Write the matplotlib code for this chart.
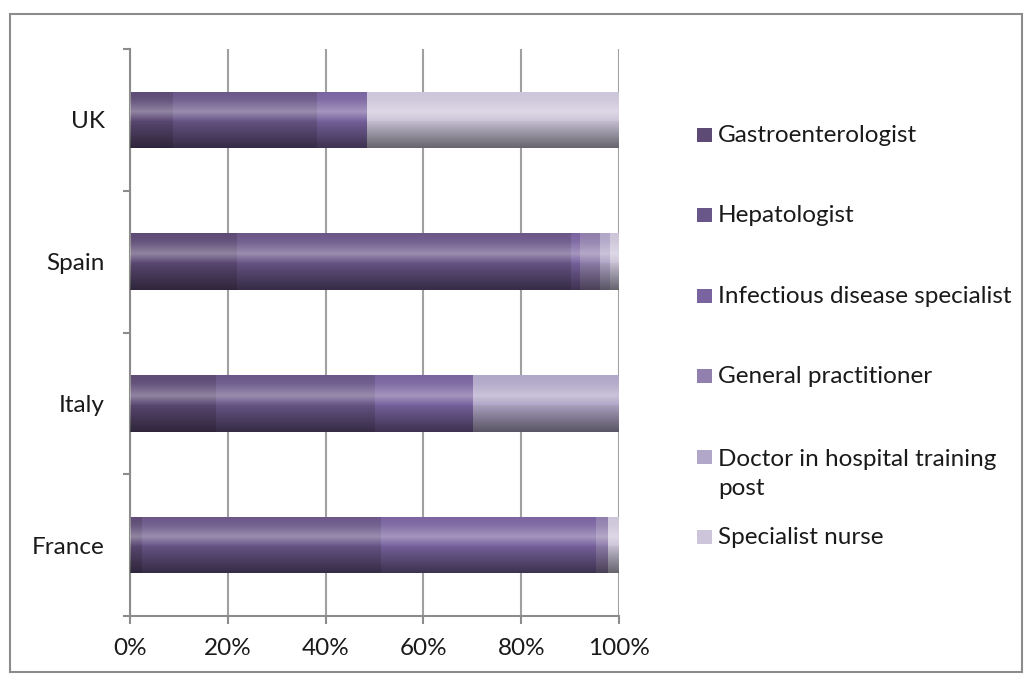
import numpy as np
import matplotlib
matplotlib.use("Agg")
import matplotlib.pyplot as plt
import matplotlib.patches as patches

plt.rcParams['font.family'] = ['Lato', 'DejaVu Sans']

countries = ['France', 'Italy', 'Spain', 'UK']
series = ['Gastroenterologist', 'Hepatologist', 'Infectious disease specialist',
          'General practitioner', 'Doctor in hospital training\npost', 'Specialist nurse']
colors = ['#5d4a75', '#6a5789', '#7a64a0', '#9180ad', '#b1a7c8', '#cdc6da']

# percent share per country (France, Italy, Spain, UK)
gastro = [2.4, 17.5, 21.9, 8.7]
hepato = [48.9, 32.6, 68.2, 29.5]
infect = [43.9, 20.0, 1.9, 10.3]
gp = [2.5, 0.0, 4.1, 0.0]
doctor = [0.0, 29.9, 2.1, 0.0]
nurse = [2.3, 0.0, 1.8, 51.5]
values = [gastro, hepato, infect, gp, doctor, nurse]

fig = plt.figure(figsize=(10.31, 6.80), dpi=100)
W, H = 1031, 680
fig.patches.append(patches.Rectangle((10 / W, 1 - 672 / H), 1012 / W, 658 / H,
                                     transform=fig.transFigure, fill=False,
                                     edgecolor='#8c8c8c', lw=1.5))

ax = fig.add_axes([130 / W, 1 - 616 / H, 489 / W, 567 / H])
y = np.arange(len(countries))
bar_h = 0.4
left = np.zeros(len(countries))
for name, vals, col in zip(series, values, colors):
    ax.barh(y, vals, left=left, height=bar_h, color=col, edgecolor='none', zorder=2)
    left = left + np.array(vals)

# glossy shading overlay, like the old office gradient (row 0 = top of bar)
t = np.linspace(0, 1, 200)
white_a = np.interp(t, [0, 0.15, 0.36, 0.52, 1.0], [0.0, 0.06, 0.32, 0.0, 0.0])
black_a = np.interp(t, [0, 0.5, 0.7, 1.0], [0.0, 0.02, 0.22, 0.5])
img = np.zeros((len(t), 1, 4))
for i in range(len(t)):
    if white_a[i] > 0:
        img[i, 0] = [1, 1, 1, white_a[i]]
    else:
        img[i, 0] = [0, 0, 0, black_a[i]]
for yi, total in zip(y, left):
    ax.imshow(img, extent=(0, total, yi - bar_h / 2, yi + bar_h / 2), origin='upper',
              aspect='auto', zorder=3, interpolation='bilinear')

ax.set_xlim(0, 100)
ax.set_ylim(-0.5, len(countries) - 0.5)
ax.set_xticks(np.arange(0, 101, 20))
ax.set_xticklabels([f'{v}%' for v in range(0, 101, 20)])
ax.set_yticks(y)
ax.set_yticklabels(countries)
ax.set_yticks(np.arange(-0.5, len(countries)), minor=True)
ax.tick_params(axis='y', which='major', length=0, pad=18, labelsize=17.5, labelcolor='#1a1a1a')
ax.tick_params(axis='y', which='minor', length=5, width=1.5, color='#8c8c8c')
ax.tick_params(axis='x', which='major', length=6, width=1.5, color='#8c8c8c',
               pad=10, labelsize=17.5, labelcolor='#1a1a1a')
ax.grid(axis='x', color='#a0a0a0', lw=1.5, zorder=0)
ax.set_axisbelow(True)
for s in ['top', 'right']:
    ax.spines[s].set_visible(False)
for s in ['left', 'bottom']:
    ax.spines[s].set_color('#8c8c8c')
    ax.spines[s].set_linewidth(1.5)

# legend drawn by hand to keep the wide spacing
for i, (name, col) in enumerate(zip(series, colors)):
    yc = 135 + 80.4 * i
    extra = 31 * name.count('\n')  # baseline goes to the last line
    fig.patches.append(patches.Rectangle((697 / W, 1 - (yc + 7) / H), 15 / W, 14 / H,
                                         transform=fig.transFigure, facecolor=col,
                                         edgecolor='none'))
    fig.text(718 / W, 1 - (yc + 7 + extra) / H, name, fontsize=17.5, color='#1a1a1a',
             va='baseline', ha='left', linespacing=1.45)

fig.savefig('out.png', dpi=100)
